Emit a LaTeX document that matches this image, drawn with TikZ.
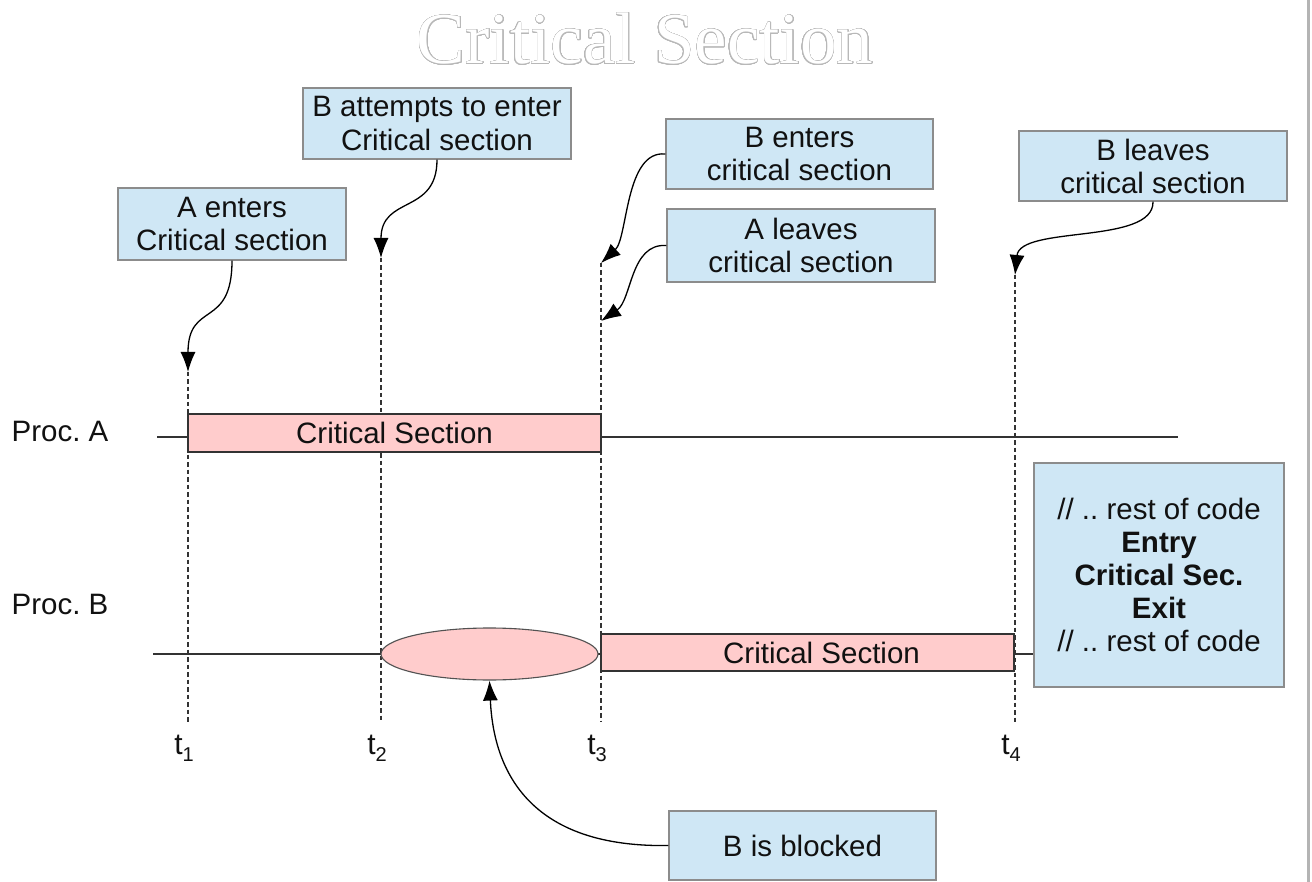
\documentclass[tikz,border=0pt]{standalone}
\usepackage{fontspec}
\setmainfont{Liberation Sans}
\newfontfamily\titlefont{Liberation Serif}
\usepackage[copies]{contour}
\contourlength{0.5pt}
\contournumber{32}
\usetikzlibrary{arrows.meta,shapes.geometric}
\definecolor{boxblue}{HTML}{CFE7F5}
\definecolor{boxedge}{HTML}{8C8C8C}
\definecolor{pinkfill}{HTML}{FFCCCC}
\definecolor{inkdark}{HTML}{111111}
\definecolor{linedark}{HTML}{333333}
\definecolor{titlegray}{HTML}{B8B8B8}
\definecolor{edgegray}{HTML}{B4B4B4}
\newcommand{\tsub}[1]{t\raisebox{-7pt}{\fontsize{20}{20}\selectfont #1}}
\frenchspacing
\begin{document}
\begin{tikzpicture}[x=1pt,y=-1pt,
  note/.style={draw=boxedge,fill=boxblue,line width=1.3pt,align=center,inner sep=0pt,
    font=\fontsize{29.5}{33}\selectfont,text=inkdark},
  csbox/.style={draw=linedark,fill=pinkfill,line width=1.6pt,inner sep=0pt,
    font=\fontsize{29.5}{33}\selectfont,text=inkdark},
  blockell/.style={ellipse,draw=linedark!85,fill=pinkfill,line width=1.1pt,inner sep=0pt},
  proclabel/.style={font=\fontsize{29.5}{33}\selectfont,text=inkdark,inner sep=0pt},
  tlabel/.style={font=\fontsize{30}{33}\selectfont,text=inkdark,inner sep=0pt},
  timeline/.style={draw=linedark,line width=1.6pt},
  marker/.style={draw=linedark,line width=1.1pt,dash pattern=on 4.5pt off 3pt},
  callout/.style={draw=black,line width=1.3pt,-{Latex[length=20pt,width=15pt]}}
]
\useasboundingbox (0,0) rectangle (1312,882);
\fill[white] (0,0) rectangle (1312,882);
% right page edge
\draw[edgegray,line width=3pt] (1308,0) -- (1308,882);

% title
\node[inner sep=0pt] (title) at (645,39)
  {\fontsize{73}{80}\titlefont\contour{titlegray}{\color{white}Critical Section}};

% process labels
\node[proclabel] (procA) at (60,431) {Proc. A};
\node[proclabel] (procB) at (60,604) {Proc. B};

% time coordinates
\coordinate (t1top) at (188,372);
\coordinate (t1bot) at (188,722);
\coordinate (t2top) at (381,258);
\coordinate (t2bot) at (381,722);
\coordinate (t3top) at (601,263);
\coordinate (t3bot) at (601,722);
\coordinate (t4top) at (1015,275);
\coordinate (t4bot) at (1015,722);
\coordinate (aStart) at (157,437);
\coordinate (aEnd) at (1178,437);
\coordinate (bStart) at (153,654);

% vertical markers
\draw[marker] (t1top) -- (t1bot);
\draw[marker] (t2top) -- (t2bot);
\draw[marker] (t3top) -- (t3bot);
\draw[marker] (t4top) -- (t4bot);

% code box
\node[note,minimum width=250pt,minimum height=224pt] (code) at (1159,575)
  {// .. rest of code\\ \textbf{Entry}\\ \textbf{Critical Sec.}\\ \textbf{Exit}\\ // .. rest of code};

% process A
\draw[timeline] (aStart) -- (aEnd);
\node[csbox,minimum width=413pt,minimum height=38pt] (csA) at (394.5,433) {Critical Section};

% process B
\draw[timeline] (bStart) -- (code.west |- bStart);
\node[blockell,minimum width=217pt,minimum height=52pt] (wait) at (489.5,654) {};
\node[csbox,minimum width=413pt,minimum height=37pt] (csB) at (807.5,652.5) {\hspace*{28pt}Critical Section};

% time labels
\node[tlabel] (l1) at (184,748) {\tsub{1}};
\node[tlabel] (l2) at (377,748) {\tsub{2}};
\node[tlabel] (l3) at (597,748) {\tsub{3}};
\node[tlabel] (l4) at (1011,748) {\tsub{4}};

% callouts
\node[note,minimum width=228pt,minimum height=72pt] (aEnters) at (232,224) {A enters\\Critical section};
\node[note,minimum width=268pt,minimum height=71pt] (bAttempts) at (437,123.5) {B attempts to enter\\Critical section};
\node[note,minimum width=267pt,minimum height=70pt] (bEnters) at (799.5,154) {B enters\\critical section};
\node[note,minimum width=268pt,minimum height=73pt] (aLeaves) at (801,245.5) {A leaves\\critical section};
\node[note,minimum width=268pt,minimum height=70pt] (bLeaves) at (1153,166) {B leaves\\critical section};
\node[note,minimum width=267pt,minimum height=69pt] (blocked) at (802.5,845.5) {B is blocked};

\draw[callout] (aEnters.south) .. controls (232,330) and (188,300) .. (t1top);
\draw[callout] (bAttempts.south) .. controls (437,215) and (381,195) .. (t2top);
\draw[callout] (bEnters.west) .. controls (625,150) and (628,238) .. (t3top);
\draw[callout] (aLeaves.west) .. controls (630,243) and (632,300) .. ([yshift=-58pt]t3top);
\draw[callout] (bLeaves.south) .. controls (1154,245) and (1020,225) .. (t4top);
\draw[callout] (blocked.west) .. controls (520,848) and (493,760) .. (wait.south);
\end{tikzpicture}
\end{document}
